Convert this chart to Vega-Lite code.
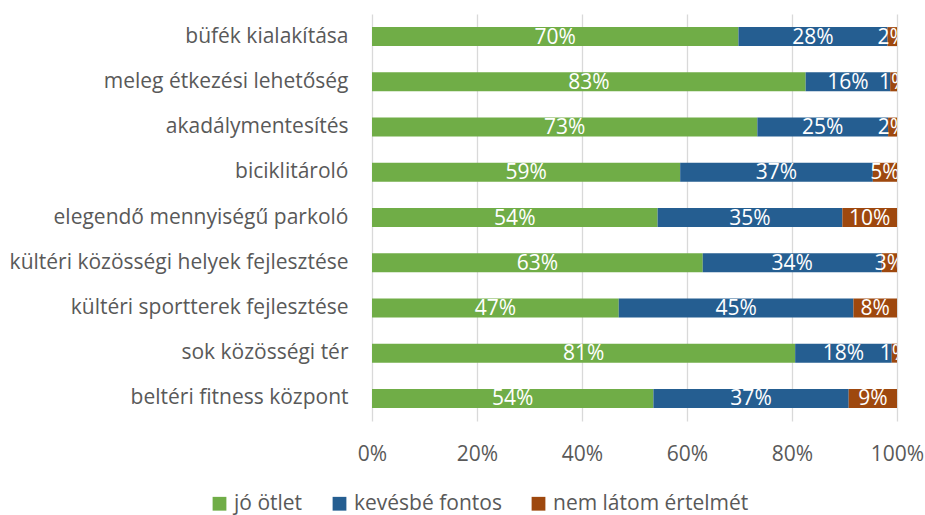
{
  "$schema": "https://vega.github.io/schema/vega-lite/v6.json",
  "autosize": {"type": "none"},
  "width": 525,
  "height": 407,
  "padding": {"left": 372, "top": 14, "right": 28, "bottom": 94},
  "background": "white",
  "config": {
    "font": "Open Sans",
    "view": {"stroke": null},
    "axis": {"labelFont": "Open Sans", "labelColor": "#595959", "labelFontSize": 21}
  },
  "data": {
    "values": [
      {"cat": "büfék kialakítása", "resp": "jó ötlet", "v": 0.698},
      {"cat": "büfék kialakítása", "resp": "kevésbé fontos", "v": 0.284},
      {"cat": "büfék kialakítása", "resp": "nem látom értelmét", "v": 0.018},
      {"cat": "meleg étkezési lehetőség", "resp": "jó ötlet", "v": 0.826},
      {"cat": "meleg étkezési lehetőség", "resp": "kevésbé fontos", "v": 0.161},
      {"cat": "meleg étkezési lehetőség", "resp": "nem látom értelmét", "v": 0.013},
      {"cat": "akadálymentesítés", "resp": "jó ötlet", "v": 0.734},
      {"cat": "akadálymentesítés", "resp": "kevésbé fontos", "v": 0.249},
      {"cat": "akadálymentesítés", "resp": "nem látom értelmét", "v": 0.017},
      {"cat": "biciklitároló", "resp": "jó ötlet", "v": 0.587},
      {"cat": "biciklitároló", "resp": "kevésbé fontos", "v": 0.367},
      {"cat": "biciklitároló", "resp": "nem látom értelmét", "v": 0.046},
      {"cat": "elegendő mennyiségű parkoló", "resp": "jó ötlet", "v": 0.544},
      {"cat": "elegendő mennyiségű parkoló", "resp": "kevésbé fontos", "v": 0.352},
      {"cat": "elegendő mennyiségű parkoló", "resp": "nem látom értelmét", "v": 0.104},
      {"cat": "kültéri közösségi helyek fejlesztése", "resp": "jó ötlet", "v": 0.63},
      {"cat": "kültéri közösségi helyek fejlesztése", "resp": "kevésbé fontos", "v": 0.341},
      {"cat": "kültéri közösségi helyek fejlesztése", "resp": "nem látom értelmét", "v": 0.029},
      {"cat": "kültéri sportterek fejlesztése", "resp": "jó ötlet", "v": 0.47},
      {"cat": "kültéri sportterek fejlesztése", "resp": "kevésbé fontos", "v": 0.447},
      {"cat": "kültéri sportterek fejlesztése", "resp": "nem látom értelmét", "v": 0.083},
      {"cat": "sok közösségi tér", "resp": "jó ötlet", "v": 0.806},
      {"cat": "sok közösségi tér", "resp": "kevésbé fontos", "v": 0.184},
      {"cat": "sok közösségi tér", "resp": "nem látom értelmét", "v": 0.01},
      {"cat": "beltéri fitness központ", "resp": "jó ötlet", "v": 0.536},
      {"cat": "beltéri fitness központ", "resp": "kevésbé fontos", "v": 0.372},
      {"cat": "beltéri fitness központ", "resp": "nem látom értelmét", "v": 0.092}
    ]
  },
  "transform": [
    {"stack": "v", "groupby": ["cat"], "sort": [{"field": "resp", "order": "ascending"}], "as": ["x0", "x1"]},
    {"calculate": "(datum.x0 + datum.x1) / 2", "as": "xm"}
  ],
  "encoding": {
    "y": {
      "field": "cat",
      "type": "nominal",
      "sort": null,
      "title": null,
      "scale": {"paddingInner": 0.58, "paddingOuter": 0.29},
      "axis": {"domain": false, "ticks": false, "labelPadding": 24, "labelFontSize": 21, "labelLimit": 400}
    }
  },
  "layer": [
    {
      "mark": {"type": "bar"},
      "encoding": {
        "x": {
          "field": "x0",
          "type": "quantitative",
          "title": null,
          "scale": {"domain": [0, 1], "nice": false},
          "axis": {
            "values": [0, 0.2, 0.4, 0.6, 0.8, 1],
            "format": ".0%",
            "domain": false,
            "ticks": false,
            "grid": true,
            "gridColor": "#D9D9D9",
            "gridWidth": 1.3,
            "labelPadding": 22,
            "labelFontSize": 21,
            "labelFlush": false
          }
        },
        "x2": {"field": "x1"},
        "color": {
          "field": "resp",
          "type": "nominal",
          "title": null,
          "scale": {
            "domain": ["jó ötlet", "kevésbé fontos", "nem látom értelmét"],
            "range": ["#70AD47", "#255E91", "#9E480E"]
          },
          "legend": {
            "orient": "none",
            "direction": "horizontal",
            "legendX": -163,
            "legendY": 479,
            "symbolType": "square",
            "symbolSize": 190,
            "symbolStrokeWidth": 0,
            "labelFontSize": 21,
            "labelColor": "#595959",
            "labelFont": "Open Sans",
            "labelLimit": 400,
            "columnPadding": 26,
            "labelOffset": 4
          }
        }
      }
    },
    {
      "mark": {"type": "text", "color": "white", "fontSize": 21, "clip": true, "baseline": "middle", "dy": 1},
      "encoding": {
        "x": {"field": "xm", "type": "quantitative"},
        "text": {"field": "v", "type": "quantitative", "format": ".0%"}
      }
    }
  ]
}
